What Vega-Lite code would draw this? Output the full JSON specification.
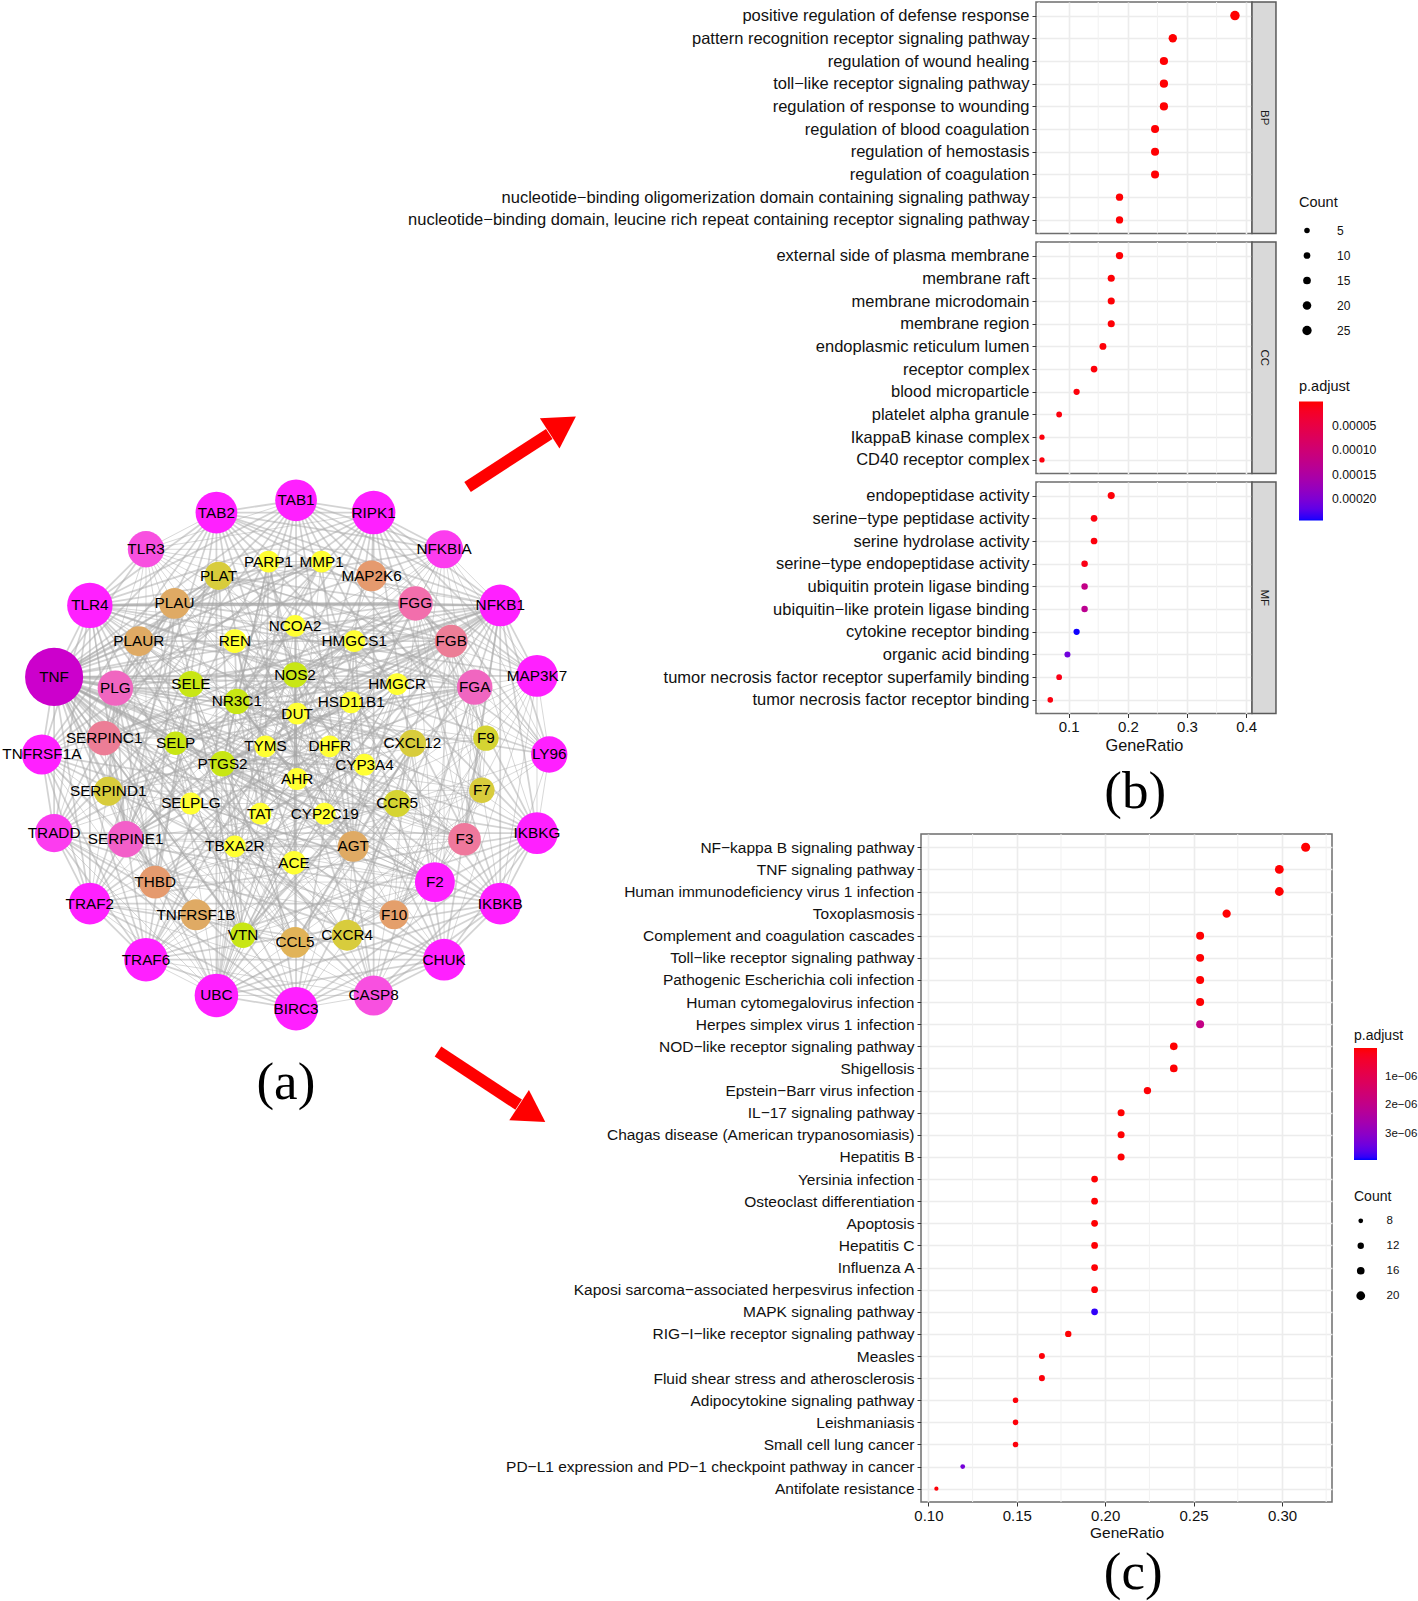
{
"$schema":"https://vega.github.io/schema/vega-lite/v6.json",
"padding":{"left":0,"top":0,"right":0,"bottom":0},
"background":"white",
"config":{"font":"Liberation Sans","view":{"stroke":"#6e6e6e","strokeWidth":1.5},
"axis":{"domain":false,"gridColor":"#ececec","gridWidth":1.6,"tickColor":"#333","tickSize":4,"labelColor":"#111","titleColor":"#111","labelFontSize":15,"titleFontSize":15.5,"titleFontWeight":"normal","labelFont":"Liberation Sans","titleFont":"Liberation Sans"},
"legend":{"titleFontSize":14.5,"titleFontWeight":"normal","titleColor":"#111","labelColor":"#111","labelFontSize":12,"gradientLength":119,"gradientThickness":24,"gradientStrokeWidth":0,"titlePadding":7,"rowPadding":13,"symbolType":"circle","symbolStrokeWidth":0,"symbolFillColor":"black"}},
"datasets":{
"nodes":[
{"id":"TNF","x":53,"y":663,"r":32,"c":10},{"id":"TLR4","x":88,"y":593,"r":25,"c":9},{"id":"TLR3","x":143,"y":538,"r":20,"c":8},{"id":"TAB2","x":212,"y":502,"r":23,"c":9},{"id":"TAB1","x":290,"y":490,"r":23,"c":9},{"id":"RIPK1","x":366,"y":502,"r":24,"c":9},{"id":"NFKBIA","x":435,"y":538,"r":21,"c":8.5},{"id":"NFKB1","x":490,"y":593,"r":23,"c":9},{"id":"MAP3K7","x":526,"y":662,"r":23,"c":9},{"id":"LY96","x":538,"y":739,"r":20,"c":9},{"id":"IKBKG","x":526,"y":816,"r":23,"c":9},{"id":"IKBKB","x":490,"y":885,"r":23,"c":9},{"id":"CHUK","x":435,"y":940,"r":23,"c":9},{"id":"CASP8","x":366,"y":975,"r":22,"c":8},{"id":"BIRC3","x":290,"y":988,"r":24,"c":9},{"id":"UBC","x":212,"y":975,"r":24,"c":9},{"id":"TRAF6","x":143,"y":940,"r":24,"c":9},{"id":"TRAF2","x":88,"y":885,"r":23,"c":9},{"id":"TRADD","x":53,"y":816,"r":21,"c":8.5},{"id":"TNFRSF1A","x":41,"y":739,"r":22,"c":9},
{"id":"PLG","x":113,"y":674,"r":19.5,"c":7},{"id":"SERPINC1","x":102,"y":723,"r":19,"c":6},{"id":"SERPIND1","x":106,"y":775,"r":16,"c":3},{"id":"SERPINE1","x":123,"y":822,"r":20,"c":7.3},{"id":"THBD","x":152,"y":864,"r":18,"c":5},{"id":"TNFRSF1B","x":192,"y":896,"r":17,"c":4},{"id":"VTN","x":238,"y":916,"r":14,"c":2},{"id":"CCL5","x":289,"y":923,"r":17,"c":3.7},{"id":"CXCR4","x":340,"y":916,"r":17,"c":3},{"id":"F10","x":386,"y":896,"r":16,"c":4.7},{"id":"F2","x":426,"y":864,"r":22,"c":9},{"id":"F3","x":455,"y":822,"r":18,"c":6.2},{"id":"F7","x":472,"y":774,"r":14,"c":3},{"id":"F9","x":476,"y":723,"r":14,"c":2.7},{"id":"FGA","x":465,"y":673,"r":19.5,"c":7},{"id":"FGB","x":442,"y":628,"r":18,"c":6},{"id":"FGG","x":407,"y":591,"r":19,"c":6.6},{"id":"MAP2K6","x":364,"y":564,"r":17,"c":5},{"id":"MMP1","x":315,"y":550,"r":12,"c":1},{"id":"PARP1","x":263,"y":550,"r":12,"c":1},{"id":"PLAT","x":214,"y":564,"r":15.5,"c":3},{"id":"PLAU","x":171,"y":591,"r":17,"c":4},{"id":"PLAUR","x":136,"y":628,"r":16.5,"c":4},
{"id":"NCOA2","x":289,"y":613,"r":12,"c":1},{"id":"REN","x":230,"y":628,"r":13,"c":1},{"id":"HMGCS1","x":347,"y":628,"r":12,"c":1},{"id":"HMGCR","x":389,"y":670,"r":12,"c":1},{"id":"NOS2","x":289,"y":661,"r":14,"c":2},{"id":"SELE","x":187,"y":670,"r":14.5,"c":2},{"id":"NR3C1","x":232,"y":687,"r":14,"c":2},{"id":"HSD11B1","x":344,"y":688,"r":12,"c":1},{"id":"DUT","x":291,"y":699,"r":12,"c":1},{"id":"SELP","x":172,"y":728,"r":13,"c":2},{"id":"TYMS","x":260,"y":731,"r":12,"c":1},{"id":"DHFR","x":323,"y":731,"r":12,"c":1},{"id":"CXCL12","x":404,"y":728,"r":15,"c":3},{"id":"PTGS2","x":218,"y":748,"r":14,"c":2},{"id":"CYP3A4","x":357,"y":749,"r":12,"c":1},{"id":"AHR","x":291,"y":763,"r":12,"c":1},{"id":"SELPLG","x":187,"y":787,"r":12,"c":1},{"id":"CCR5","x":389,"y":787,"r":15,"c":2.7},{"id":"TAT","x":255,"y":797,"r":12,"c":1},{"id":"CYP2C19","x":318,"y":797,"r":12,"c":1},{"id":"TBXA2R","x":230,"y":829,"r":12,"c":1},{"id":"ACE","x":288,"y":845,"r":13,"c":1},{"id":"AGT","x":346,"y":829,"r":17,"c":4}
],
"edges":[
{"s":"TNF","w":2,"t":["TLR4","TLR3","TAB2","TAB1","RIPK1","NFKBIA","NFKB1","MAP3K7","LY96","IKBKG","IKBKB","CHUK","CASP8","BIRC3","UBC","TRAF6","TRAF2","TRADD","TNFRSF1A","TNFRSF1B","PLG","SERPINE1","F3","F2","PLAU","PLAUR","PLAT","NOS2","SELE","SELP","SELPLG","PTGS2","NR3C1","CXCL12","CCR5","CCL5","CXCR4","AGT","ACE","REN","HMGCR","MMP1","PARP1","AHR","VTN","THBD"]},
{"s":"TLR4","w":2,"t":["TLR3","TAB2","TAB1","RIPK1","NFKBIA","NFKB1","MAP3K7","LY96","IKBKG","IKBKB","CHUK","CASP8","BIRC3","UBC","TRAF6","TRAF2","TRADD","TNFRSF1A","PTGS2","NOS2"]},
{"s":"TLR4","w":3,"t":["FGG","PLAU"]},
{"s":"TLR4","w":1,"t":["FGA","FGB","PLG","SERPINE1","F3"]},
{"s":"TLR3","w":1,"t":["TAB2","TAB1","RIPK1","NFKBIA","NFKB1","MAP3K7","LY96","IKBKG","IKBKB","CHUK","CASP8","BIRC3","UBC","TRAF6","TRAF2","TRADD"]},
{"s":"TAB2","w":2,"t":["TAB1","RIPK1","NFKBIA","NFKB1","MAP3K7","LY96","IKBKG","IKBKB","CHUK","CASP8","BIRC3","UBC","TRAF6","TRAF2","TRADD","TNFRSF1A","MAP2K6"]},
{"s":"TAB1","w":2,"t":["RIPK1","NFKBIA","NFKB1","MAP3K7","IKBKG","IKBKB","CHUK","CASP8","BIRC3","UBC","TRAF6","TRAF2","TRADD","TNFRSF1A","MAP2K6"]},
{"s":"RIPK1","w":2,"t":["NFKBIA","NFKB1","MAP3K7","LY96","IKBKG","IKBKB","CHUK","CASP8","BIRC3","UBC","TRAF6","TRAF2","TRADD","TNFRSF1A","MAP2K6"]},
{"s":"NFKBIA","w":1,"t":["NFKB1","MAP3K7","LY96","IKBKG","IKBKB","CHUK","CASP8","BIRC3","UBC","TRAF6","TRAF2","TRADD","TNFRSF1A","PTGS2","NOS2"]},
{"s":"NFKB1","w":2,"t":["MAP3K7","LY96","IKBKG","IKBKB","CHUK","CASP8","BIRC3","UBC","TRAF6","TRAF2","TRADD","TNFRSF1A","NOS2","PTGS2","SELE","NR3C1","PLAU","FGG","FGB","F3","SERPINE1","AHR","PARP1","NCOA2"]},
{"s":"MAP3K7","w":1,"t":["LY96","IKBKG","IKBKB","CHUK","CASP8","BIRC3","UBC","TRAF6","TRAF2","TRADD","TNFRSF1A","MAP2K6"]},
{"s":"LY96","w":1,"t":["IKBKG","IKBKB","UBC","TRAF6","TRAF2","FGA","FGG","FGB"]},
{"s":"IKBKG","w":2,"t":["IKBKB","CHUK","CASP8","BIRC3","UBC","TRAF6","TRAF2","TRADD","TNFRSF1A"]},
{"s":"IKBKB","w":2,"t":["CHUK","CASP8","BIRC3","UBC","TRAF6","TRAF2","TRADD","TNFRSF1A"]},
{"s":"CHUK","w":2,"t":["CASP8","BIRC3","UBC","TRAF6","TRAF2","TRADD","TNFRSF1A"]},
{"s":"CASP8","w":1,"t":["BIRC3","UBC","TRAF6","TRAF2","TRADD","TNFRSF1A","PARP1"]},
{"s":"BIRC3","w":2,"t":["UBC","TRAF6","TRAF2","TRADD","TNFRSF1A"]},
{"s":"UBC","w":1,"t":["TRAF6","TRAF2","TRADD","TNFRSF1A","PARP1","NFKBIA","HMGCR","NOS2","PTGS2","NR3C1","MAP2K6","TYMS","DHFR","AHR","F2","SERPINE1"]},
{"s":"TRAF6","w":2,"t":["TRAF2","TRADD","TNFRSF1A","MAP2K6"]},
{"s":"TRAF2","w":2,"t":["TRADD","TNFRSF1A"]},
{"s":"TRADD","w":2,"t":["TNFRSF1A","TNFRSF1B"]},
{"s":"F2","w":1,"t":["F3","F7","F9","F10","FGA","FGB","FGG","PLG","PLAT","PLAU","PLAUR","SERPINC1","SERPIND1","SERPINE1","THBD","VTN","SELE","SELP","SELPLG","TBXA2R","CXCL12","CXCR4","CCL5","AGT","PTGS2"]},
{"s":"F3","w":1,"t":["F7","F9","F10","FGA","FGB","FGG","PLG","PLAT","PLAU","PLAUR","SERPINC1","SERPIND1","SERPINE1","THBD","VTN","SELE","SELP"]},
{"s":"F7","w":1,"t":["F9","F10","FGA","FGB","FGG","PLG","SERPINC1","SERPIND1","SERPINE1","THBD"]},
{"s":"F9","w":1,"t":["F10","FGA","FGB","FGG","PLG","SERPINC1","SERPIND1","THBD","VTN"]},
{"s":"F10","w":1,"t":["FGA","FGB","FGG","PLG","PLAT","SERPINC1","SERPIND1","SERPINE1","THBD"]},
{"s":"FGA","w":2,"t":["FGB","FGG","PLG","PLAT","PLAU","PLAUR","SERPINC1","SERPIND1","SERPINE1","THBD","VTN","SELP"]},
{"s":"FGB","w":2,"t":["FGG","PLG","PLAT","PLAU","PLAUR","SERPINC1","SERPIND1","SERPINE1","THBD","VTN","SELP"]},
{"s":"FGG","w":2,"t":["PLG","PLAT","PLAU","PLAUR","SERPINC1","SERPIND1","SERPINE1","THBD","VTN","SELP"]},
{"s":"PLG","w":2,"t":["PLAT","PLAU","PLAUR","SERPINC1","SERPIND1","SERPINE1","THBD","VTN","MMP1","SELP"]},
{"s":"PLAT","w":2,"t":["PLAU","PLAUR","SERPINC1","SERPINE1","THBD","MMP1","VTN"]},
{"s":"PLAU","w":2,"t":["PLAUR","SERPINC1","SERPINE1","MMP1","VTN","THBD"]},
{"s":"PLAUR","w":1,"t":["SERPINE1","SERPINC1","VTN","MMP1","SELE","CXCL12","CCL5"]},
{"s":"SERPINC1","w":1,"t":["SERPIND1","SERPINE1","THBD","VTN"]},
{"s":"SERPINE1","w":1,"t":["SERPIND1","THBD","VTN","SELE","SELP","AGT","NOS2","PTGS2","MMP1"]},
{"s":"SELE","w":1,"t":["SELP","SELPLG","CCL5","CXCL12","NOS2","PTGS2","VTN","THBD"]},
{"s":"SELP","w":1,"t":["SELPLG","CCL5","CXCR4","PTGS2","VTN","TBXA2R"]},
{"s":"SELPLG","w":1,"t":["CCL5","CXCR4","CCR5"]},
{"s":"CXCL12","w":2,"t":["CXCR4","CCR5","CCL5","AGT","NOS2","PTGS2","VTN","NR3C1"]},
{"s":"CCR5","w":2,"t":["CCL5","CXCR4","AGT","TBXA2R"]},
{"s":"CCL5","w":2,"t":["CXCR4","AGT","PTGS2","NOS2","VTN"]},
{"s":"CXCR4","w":1,"t":["AGT","TBXA2R","PTGS2"]},
{"s":"AGT","w":2,"t":["REN","ACE","NOS2","PTGS2","NR3C1","TBXA2R","HMGCR","CYP3A4","HSD11B1","MMP1"]},
{"s":"REN","w":2,"t":["ACE","NOS2","NR3C1","HMGCR"]},
{"s":"ACE","w":1,"t":["NOS2","PTGS2","HMGCR","TBXA2R","NCOA2"]},
{"s":"NOS2","w":1,"t":["PTGS2","NR3C1","AHR","HMGCR","CYP3A4","HSD11B1","TBXA2R","NCOA2"]},
{"s":"PTGS2","w":2,"t":["NR3C1","AHR","MMP1","PARP1","TBXA2R","HMGCR","HSD11B1","CYP3A4","CYP2C19","TYMS"]},
{"s":"NR3C1","w":2,"t":["NCOA2","AHR","HSD11B1","CYP3A4","CYP2C19","TAT","HMGCS1","HMGCR","MMP1","PARP1"]},
{"s":"NCOA2","w":1,"t":["AHR","HMGCS1","HMGCR","CYP3A4","HSD11B1","TAT","CYP2C19"]},
{"s":"AHR","w":1,"t":["CYP3A4","CYP2C19","TAT","TYMS","DHFR","MMP1","HSD11B1"]},
{"s":"HMGCS1","w":2,"t":["HMGCR","HSD11B1","CYP3A4","DUT"]},
{"s":"HMGCR","w":1,"t":["CYP3A4","HSD11B1","CYP2C19","TAT"]},
{"s":"CYP3A4","w":2,"t":["CYP2C19","HSD11B1","TAT","DHFR","TYMS"]},
{"s":"DUT","w":2,"t":["TYMS","DHFR","PARP1","TAT"]},
{"s":"TYMS","w":2,"t":["DHFR","PARP1","TAT"]},
{"s":"DHFR","w":1,"t":["CYP2C19","TAT"]},
{"s":"TBXA2R","w":1,"t":["CYP3A4","CYP2C19","TAT"]},
{"s":"PARP1","w":1,"t":["MMP1","CYP2C19"]},
{"s":"TNFRSF1B","w":1,"t":["TNFRSF1A","TRAF6","TRAF2","CCL5","VTN","THBD"]}
],
"bp":[
{"term":"positive regulation of defense response","ratio":0.381,"count":26,"p":0.0000005},
{"term":"pattern recognition receptor signaling pathway","ratio":0.276,"count":19,"p":0.0000005},
{"term":"regulation of wound healing","ratio":0.261,"count":18,"p":0.000001},
{"term":"toll−like receptor signaling pathway","ratio":0.261,"count":18,"p":0.000001},
{"term":"regulation of response to wounding","ratio":0.261,"count":18,"p":0.000001},
{"term":"regulation of blood coagulation","ratio":0.246,"count":17,"p":0.000001},
{"term":"regulation of hemostasis","ratio":0.246,"count":17,"p":0.000001},
{"term":"regulation of coagulation","ratio":0.246,"count":17,"p":0.000001},
{"term":"nucleotide−binding oligomerization domain containing signaling pathway","ratio":0.186,"count":13,"p":0.000001},
{"term":"nucleotide−binding domain, leucine rich repeat containing receptor signaling pathway","ratio":0.186,"count":13,"p":0.000001}],
"cc":[
{"term":"external side of plasma membrane","ratio":0.186,"count":13,"p":0.000002},
{"term":"membrane raft","ratio":0.172,"count":12,"p":0.000002},
{"term":"membrane microdomain","ratio":0.172,"count":12,"p":0.000002},
{"term":"membrane region","ratio":0.172,"count":12,"p":0.000002},
{"term":"endoplasmic reticulum lumen","ratio":0.158,"count":11,"p":0.000003},
{"term":"receptor complex","ratio":0.143,"count":10,"p":0.000003},
{"term":"blood microparticle","ratio":0.1135,"count":8,"p":0.000004},
{"term":"platelet alpha granule","ratio":0.084,"count":6,"p":0.000005},
{"term":"IkappaB kinase complex","ratio":0.055,"count":4,"p":0.000005},
{"term":"CD40 receptor complex","ratio":0.055,"count":4,"p":0.000005}],
"mf":[
{"term":"endopeptidase activity","ratio":0.172,"count":12,"p":0.000003},
{"term":"serine−type peptidase activity","ratio":0.143,"count":10,"p":0.000005},
{"term":"serine hydrolase activity","ratio":0.143,"count":10,"p":0.000005},
{"term":"serine−type endopeptidase activity","ratio":0.127,"count":9,"p":0.00001},
{"term":"ubiquitin protein ligase binding","ratio":0.127,"count":9,"p":0.00012},
{"term":"ubiquitin−like protein ligase binding","ratio":0.127,"count":9,"p":0.00013},
{"term":"cytokine receptor binding","ratio":0.1135,"count":8,"p":0.000243},
{"term":"organic acid binding","ratio":0.098,"count":7,"p":0.00021},
{"term":"tumor necrosis factor receptor superfamily binding","ratio":0.084,"count":6,"p":0.00001},
{"term":"tumor necrosis factor receptor binding","ratio":0.069,"count":5,"p":0.000006}],
"kegg":[
{"term":"NF−kappa B signaling pathway","ratio":0.3134,"count":21,"p":0.00000001},
{"term":"TNF signaling pathway","ratio":0.2985,"count":20,"p":0.00000001},
{"term":"Human immunodeficiency virus 1 infection","ratio":0.2985,"count":20,"p":0.00000001},
{"term":"Toxoplasmosis","ratio":0.2687,"count":18,"p":0.00000001},
{"term":"Complement and coagulation cascades","ratio":0.2537,"count":17,"p":0.00000001},
{"term":"Toll−like receptor signaling pathway","ratio":0.2537,"count":17,"p":0.00000001},
{"term":"Pathogenic Escherichia coli infection","ratio":0.2537,"count":17,"p":0.00000001},
{"term":"Human cytomegalovirus infection","ratio":0.2537,"count":17,"p":0.00000002},
{"term":"Herpes simplex virus 1 infection","ratio":0.2537,"count":17,"p":0.0000019},
{"term":"NOD−like receptor signaling pathway","ratio":0.2388,"count":16,"p":0.00000001},
{"term":"Shigellosis","ratio":0.2388,"count":16,"p":0.00000002},
{"term":"Epstein−Barr virus infection","ratio":0.2239,"count":15,"p":0.00000003},
{"term":"IL−17 signaling pathway","ratio":0.209,"count":14,"p":0.00000001},
{"term":"Chagas disease (American trypanosomiasis)","ratio":0.209,"count":14,"p":0.00000001},
{"term":"Hepatitis B","ratio":0.209,"count":14,"p":0.00000002},
{"term":"Yersinia infection","ratio":0.194,"count":13,"p":0.00000002},
{"term":"Osteoclast differentiation","ratio":0.194,"count":13,"p":0.00000002},
{"term":"Apoptosis","ratio":0.194,"count":13,"p":0.00000002},
{"term":"Hepatitis C","ratio":0.194,"count":13,"p":0.00000003},
{"term":"Influenza A","ratio":0.194,"count":13,"p":0.00000003},
{"term":"Kaposi sarcoma−associated herpesvirus infection","ratio":0.194,"count":13,"p":0.00000003},
{"term":"MAPK signaling pathway","ratio":0.194,"count":13,"p":0.0000038},
{"term":"RIG−I−like receptor signaling pathway","ratio":0.1791,"count":12,"p":0.00000002},
{"term":"Measles","ratio":0.1642,"count":11,"p":0.00000005},
{"term":"Fluid shear stress and atherosclerosis","ratio":0.1642,"count":11,"p":0.00000006},
{"term":"Adipocytokine signaling pathway","ratio":0.1493,"count":10,"p":0.00000005},
{"term":"Leishmaniasis","ratio":0.1493,"count":10,"p":0.00000005},
{"term":"Small cell lung cancer","ratio":0.1493,"count":10,"p":0.00000006},
{"term":"PD−L1 expression and PD−1 checkpoint pathway in cancer","ratio":0.1194,"count":8,"p":0.0000033},
{"term":"Antifolate resistance","ratio":0.1045,"count":7,"p":0.00000005}]
},
"resolve":{"scale":{"color":"independent","size":"independent"},"legend":{"color":"independent","size":"independent"}},
"vconcat":[
{"resolve":{"scale":{"color":"independent","size":"independent"},"legend":{"color":"independent","size":"independent"}},
"hconcat":[
{"width":1036,"height":831,"view":{"stroke":null},
"encoding":{"x":{"field":"x","type":"quantitative","scale":{"domain":[0,1014.8],"zero":false,"nice":false},"axis":null},"y":{"field":"y","type":"quantitative","scale":{"domain":[815.9,1.96],"zero":false,"nice":false},"axis":null}},
"layer":[
{"data":{"name":"edges"},"transform":[{"flatten":["t"]},{"lookup":"s","from":{"data":{"name":"nodes"},"key":"id","fields":["x","y"]}},{"lookup":"t","from":{"data":{"name":"nodes"},"key":"id","fields":["x","y"]},"as":["x2","y2"]}],
"mark":{"type":"rule","color":"#a8a8a8","opacity":0.5},
"encoding":{"x2":{"field":"x2"},"y2":{"field":"y2"},"strokeWidth":{"field":"w","type":"quantitative","scale":{"domain":[1,3],"range":[0.9,2.6]},"legend":null}}},
{"data":{"name":"nodes"},"mark":{"type":"circle","opacity":1},
"encoding":{"size":{"field":"r","type":"quantitative","scale":{"type":"pow","exponent":2,"domain":[0,32],"range":[0,3375]},"legend":null},
"color":{"field":"c","type":"quantitative","scale":{"domain":[1,2,3,4,5,6,7,8,9,10],"range":["#ffff33","#c8e614","#d8cc3c","#dfaa64","#e59a6e","#ec7d96","#f066c0","#f850e0","#ff20ff","#cc00cc"]},"legend":null}}},
{"data":{"name":"nodes"},"mark":{"type":"text","fontSize":15.3,"color":"#000","font":"Liberation Sans"},"encoding":{"text":{"field":"id"}}},
{"data":{"values":[{"x":458,"y":477,"x2":538,"y2":425}]},"mark":{"type":"rule","color":"#ff0000","strokeWidth":12},"encoding":{"x2":{"field":"x2"},"y2":{"field":"y2"}}},
{"data":{"values":[{"x":547,"y":419}]},"mark":{"type":"point","shape":"triangle","angle":57,"size":1300,"filled":true,"color":"#ff0000","opacity":1}},
{"data":{"values":[{"x":1112,"y":776,"label":"(b)"}]},"mark":{"type":"text","font":"Liberation Serif","fontSize":53,"color":"#000"},"encoding":{"text":{"field":"label"}}}
]},
{"resolve":{"scale":{"color":"independent","size":"independent"},"legend":{"color":"independent","size":"independent"}},
"vconcat":[
{"width":216,"height":231.5,"data":{"name":"bp"},
"encoding":{"x":{"field":"ratio","type":"quantitative","scale":{"domain":[0.0449,0.4098],"nice":false,"zero":false},"axis":{"values":[0.1,0.2,0.3,0.4],"labels":false,"ticks":false,"title":null}}},
"layer":[
{"data":{"values":[{"ratio":0.05},{"ratio":0.15},{"ratio":0.25},{"ratio":0.35}]},"mark":{"type":"rule","color":"#f1f1f1","strokeWidth":1}},
{"data":{"values":[{"ratio":0.4098,"b":0.4503}]},"mark":{"type":"rect","fill":"#d9d9d9","stroke":"#5a5a5a","strokeWidth":1.5},"encoding":{"x2":{"field":"b"}}},
{"data":{"values":[{"ratio":0.4303,"s":"BP"}]},"mark":{"type":"text","angle":90,"fontSize":11.5,"color":"#1a1a1a"},"encoding":{"text":{"field":"s"}}},
{"mark":{"type":"circle","opacity":1},
"encoding":{"y":{"field":"term","type":"nominal","sort":null,"scale":{"type":"point","padding":0.6},"axis":{"title":null,"labelLimit":800,"grid":true,"labelFontSize":16.5,"labelPadding":3}},
"size":{"field":"count","type":"quantitative","scale":{"domain":[4,26],"range":[28,90]},"legend":null},
"color":{"field":"p","type":"quantitative","scale":{"domain":[0.000244,0],"range":["#0000ff","#ff0000"],"interpolate":"lab"},"legend":null}}}
]},
{"width":216,"height":231.5,"data":{"name":"cc"},
"encoding":{"x":{"field":"ratio","type":"quantitative","scale":{"domain":[0.0449,0.4098],"nice":false,"zero":false},"axis":{"values":[0.1,0.2,0.3,0.4],"labels":false,"ticks":false,"title":null}}},
"layer":[
{"data":{"values":[{"ratio":0.05},{"ratio":0.15},{"ratio":0.25},{"ratio":0.35}]},"mark":{"type":"rule","color":"#f1f1f1","strokeWidth":1}},
{"data":{"values":[{"ratio":0.4098,"b":0.4503}]},"mark":{"type":"rect","fill":"#d9d9d9","stroke":"#5a5a5a","strokeWidth":1.5},"encoding":{"x2":{"field":"b"}}},
{"data":{"values":[{"ratio":0.4303,"s":"CC"}]},"mark":{"type":"text","angle":90,"fontSize":11.5,"color":"#1a1a1a"},"encoding":{"text":{"field":"s"}}},
{"mark":{"type":"circle","opacity":1},
"encoding":{"y":{"field":"term","type":"nominal","sort":null,"scale":{"type":"point","padding":0.6},"axis":{"title":null,"labelLimit":800,"grid":true,"labelFontSize":16.5,"labelPadding":3}},
"size":{"field":"count","type":"quantitative","scale":{"domain":[4,26],"range":[28,90]},"legend":{"title":"Count","values":[5,10,15,20,25],"orient":"none","legendX":263,"legendY":-46,"titlePadding":14,"labelOffset":24,"symbolOffset":2}},
"color":{"field":"p","type":"quantitative","scale":{"domain":[0.000244,0],"range":["#0000ff","#ff0000"],"interpolate":"lab"},"legend":{"title":"p.adjust","values":[0.00005,0.0001,0.00015,0.0002],"format":".5f","orient":"none","legendX":263,"legendY":138,"labelOffset":9,"labelFontSize":12.3}}}}
]},
{"width":216,"height":231.5,"data":{"name":"mf"},
"encoding":{"x":{"field":"ratio","type":"quantitative","scale":{"domain":[0.0449,0.4098],"nice":false,"zero":false},"axis":{"values":[0.1,0.2,0.3,0.4],"format":".1f","title":"GeneRatio","titlePadding":3,"labelPadding":2,"titleFontSize":16.3}}},
"layer":[
{"data":{"values":[{"ratio":0.05},{"ratio":0.15},{"ratio":0.25},{"ratio":0.35}]},"mark":{"type":"rule","color":"#f1f1f1","strokeWidth":1}},
{"data":{"values":[{"ratio":0.4098,"b":0.4503}]},"mark":{"type":"rect","fill":"#d9d9d9","stroke":"#5a5a5a","strokeWidth":1.5},"encoding":{"x2":{"field":"b"}}},
{"data":{"values":[{"ratio":0.4303,"s":"MF"}]},"mark":{"type":"text","angle":90,"fontSize":11.5,"color":"#1a1a1a"},"encoding":{"text":{"field":"s"}}},
{"mark":{"type":"circle","opacity":1},
"encoding":{"y":{"field":"term","type":"nominal","sort":null,"scale":{"type":"point","padding":0.6},"axis":{"title":null,"labelLimit":800,"grid":true,"labelFontSize":16.5,"labelPadding":3}},
"size":{"field":"count","type":"quantitative","scale":{"domain":[4,26],"range":[28,90]},"legend":null},
"color":{"field":"p","type":"quantitative","scale":{"domain":[0.000244,0],"range":["#0000ff","#ff0000"],"interpolate":"lab"},"legend":null}}}
]}
],"spacing":8,"bounds":"flush"}
],"spacing":0,"bounds":"flush"},
{"resolve":{"scale":{"color":"independent","size":"independent"},"legend":{"color":"independent","size":"independent"}},
"hconcat":[
{"width":921,"height":768,"view":{"stroke":null},
"encoding":{"x":{"field":"x","type":"quantitative","scale":{"domain":[0,902.1],"zero":false,"nice":false},"axis":null},"y":{"field":"y","type":"quantitative","scale":{"domain":[1568.2,815.9],"zero":false,"nice":false},"axis":null}},
"layer":[
{"data":{"values":[{"x":429,"y":1029,"x2":508,"y2":1081}]},"mark":{"type":"rule","color":"#ff0000","strokeWidth":12},"encoding":{"x2":{"field":"x2"},"y2":{"field":"y2"}}},
{"data":{"values":[{"x":517,"y":1087}]},"mark":{"type":"point","shape":"triangle","angle":123,"size":1300,"filled":true,"color":"#ff0000","opacity":1}},
{"data":{"values":[{"x":280,"y":1060,"label":"(a)"},{"x":1110,"y":1540,"label":"(c)"}]},"mark":{"type":"text","font":"Liberation Serif","fontSize":53,"color":"#000"},"encoding":{"text":{"field":"label"}}}
]},
{"width":411,"height":668,"data":{"name":"kegg"},
"encoding":{"x":{"field":"ratio","type":"quantitative","scale":{"domain":[0.0958,0.3283],"nice":false,"zero":false},"axis":{"values":[0.1,0.15,0.2,0.25,0.3],"format":".2f","title":"GeneRatio","titlePadding":2,"labelPadding":2}}},
"layer":[
{"data":{"values":[{"ratio":0.125},{"ratio":0.175},{"ratio":0.225},{"ratio":0.275},{"ratio":0.325}]},"mark":{"type":"rule","color":"#f1f1f1","strokeWidth":1}},
{"mark":{"type":"circle","opacity":1},
"encoding":{"y":{"field":"term","type":"nominal","sort":null,"scale":{"type":"point","padding":0.6},"axis":{"title":null,"labelLimit":800,"grid":true,"labelFontSize":15.5,"labelPadding":3}},
"size":{"field":"count","type":"quantitative","scale":{"domain":[7,21],"range":[18,82]},"legend":{"title":"Count","values":[8,12,16,20],"orient":"none","legendX":433,"legendY":356,"titlePadding":11,"labelOffset":20,"symbolOffset":1,"titleFontSize":14,"labelFontSize":11.5,"rowPadding":12}},
"color":{"field":"p","type":"quantitative","scale":{"domain":[0.0000039,0],"range":["#0000ff","#ff0000"],"interpolate":"lab"},"legend":{"title":"p.adjust","values":[0.000001,0.000002,0.000003],"gradientLength":112,"gradientThickness":23,"titlePadding":5,"titleFontSize":14,"labelFontSize":11.5,"labelOffset":8,"labelExpr":"replace(format(datum.value,'.0e'),'-','−0')","orient":"none","legendX":433,"legendY":195}}}}
]}
],"spacing":0,"bounds":"flush"}
],"spacing":832,"bounds":"flush"
}
